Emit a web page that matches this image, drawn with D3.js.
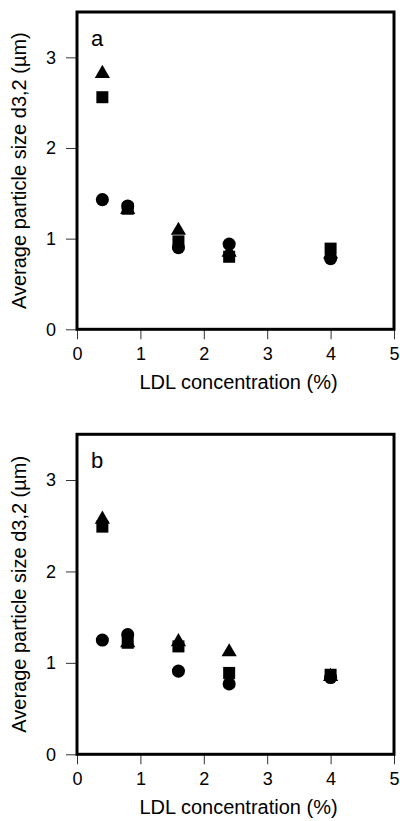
<!DOCTYPE html>
<html>
<head>
<meta charset="utf-8">
<script src="https://cdn.jsdelivr.net/npm/d3@7"></script>
<style>
  body { margin: 0; background: #fff; }
  svg { display: block; font-family: "Liberation Sans", Arial, sans-serif; }
</style>
</head>
<body>
<svg id="chart" width="400" height="821"></svg>
<script>
// LDL concentration (%) on x
const ldl = [0.4, 0.8, 1.6, 2.4, 4];
const xTicks = [0, 1, 2, 3, 4, 5];
const yTicks = [0, 1, 2, 3];

// panel a
const circleA = [1.43, 1.36, 0.90, 0.94, 0.78];
const squareA = [2.56, 1.33, 0.97, 0.80, 0.89];
const triangleA = [2.82, 1.32, 1.09, 0.85, 0.83];

// panel b
const circleB = [1.25, 1.31, 0.91, 0.77, 0.84];
const squareB = [2.49, 1.22, 1.18, 0.89, 0.87];
const triangleB = [2.57, 1.22, 1.23, 1.12, 0.85];

const svg = d3.select('#chart');
const left = 77, right = 394;
const fmt = d3.format('d');

function panel(top, bottom, label, series) {
  const x = d3.scaleLinear().domain([0, 5]).range([left, right]);
  const y = d3.scaleLinear().domain([0, 3.5]).range([bottom, top]);
  const g = svg.append('g');

  // ticks
  g.append('g')
    .attr('transform', 'translate(0,' + bottom + ')')
    .call(d3.axisBottom(x).tickValues(xTicks).tickFormat(fmt).tickSize(10).tickPadding(8).tickSizeOuter(0))
    .call(a => a.select('.domain').remove())
    .call(a => a.selectAll('line').attr('stroke', '#333'))
    .call(a => a.selectAll('text').attr('font-size', 18).attr('fill', '#000'));

  g.append('g')
    .attr('transform', 'translate(' + left + ',0)')
    .call(d3.axisLeft(y).tickValues(yTicks).tickFormat(fmt).tickSize(11).tickPadding(10).tickSizeOuter(0))
    .call(a => a.select('.domain').remove())
    .call(a => a.selectAll('line').attr('stroke', '#333'))
    .call(a => a.selectAll('text').attr('font-size', 18).attr('fill', '#000'));

  // frame
  g.append('rect')
    .attr('x', left).attr('y', top)
    .attr('width', right - left).attr('height', bottom - top)
    .attr('fill', 'none').attr('stroke', '#000').attr('stroke-width', 3);

  // markers: triangles, then squares, then circles on top
  series.forEach(s => {
    const sym = d3.symbol().type(s.type).size(s.size);
    g.append('g').selectAll('path')
      .data(ldl.map((v, i) => ({ x: v, y: s.values[i] })))
      .enter()
      .append('path')
      .attr('d', sym)
      .attr('transform', d => 'translate(' + x(d.x) + ',' + y(d.y) + ')')
      .attr('fill', '#000');
  });

  g.append('text')
    .attr('x', 97).attr('y', top + 34)
    .attr('text-anchor', 'middle')
    .attr('font-size', 22)
    .text(label);

  g.append('text')
    .attr('transform', 'translate(26,' + (top + bottom) / 2 + ') rotate(-90)')
    .attr('text-anchor', 'middle')
    .attr('font-size', 20)
    .text('Average particle size d3,2 (µm)');

  g.append('text')
    .attr('x', (left + right) / 2 + 3).attr('y', bottom + 60)
    .attr('text-anchor', 'middle')
    .attr('font-size', 20)
    .text('LDL concentration (%)');
}

panel(12, 329.3, 'a', [
  { type: d3.symbolTriangle, size: 100, values: triangleA },
  { type: d3.symbolSquare, size: 144, values: squareA },
  { type: d3.symbolCircle, size: 135, values: circleA }
]);

panel(434.3, 754.3, 'b', [
  { type: d3.symbolTriangle, size: 100, values: triangleB },
  { type: d3.symbolSquare, size: 144, values: squareB },
  { type: d3.symbolCircle, size: 135, values: circleB }
]);
</script>
</body>
</html>
